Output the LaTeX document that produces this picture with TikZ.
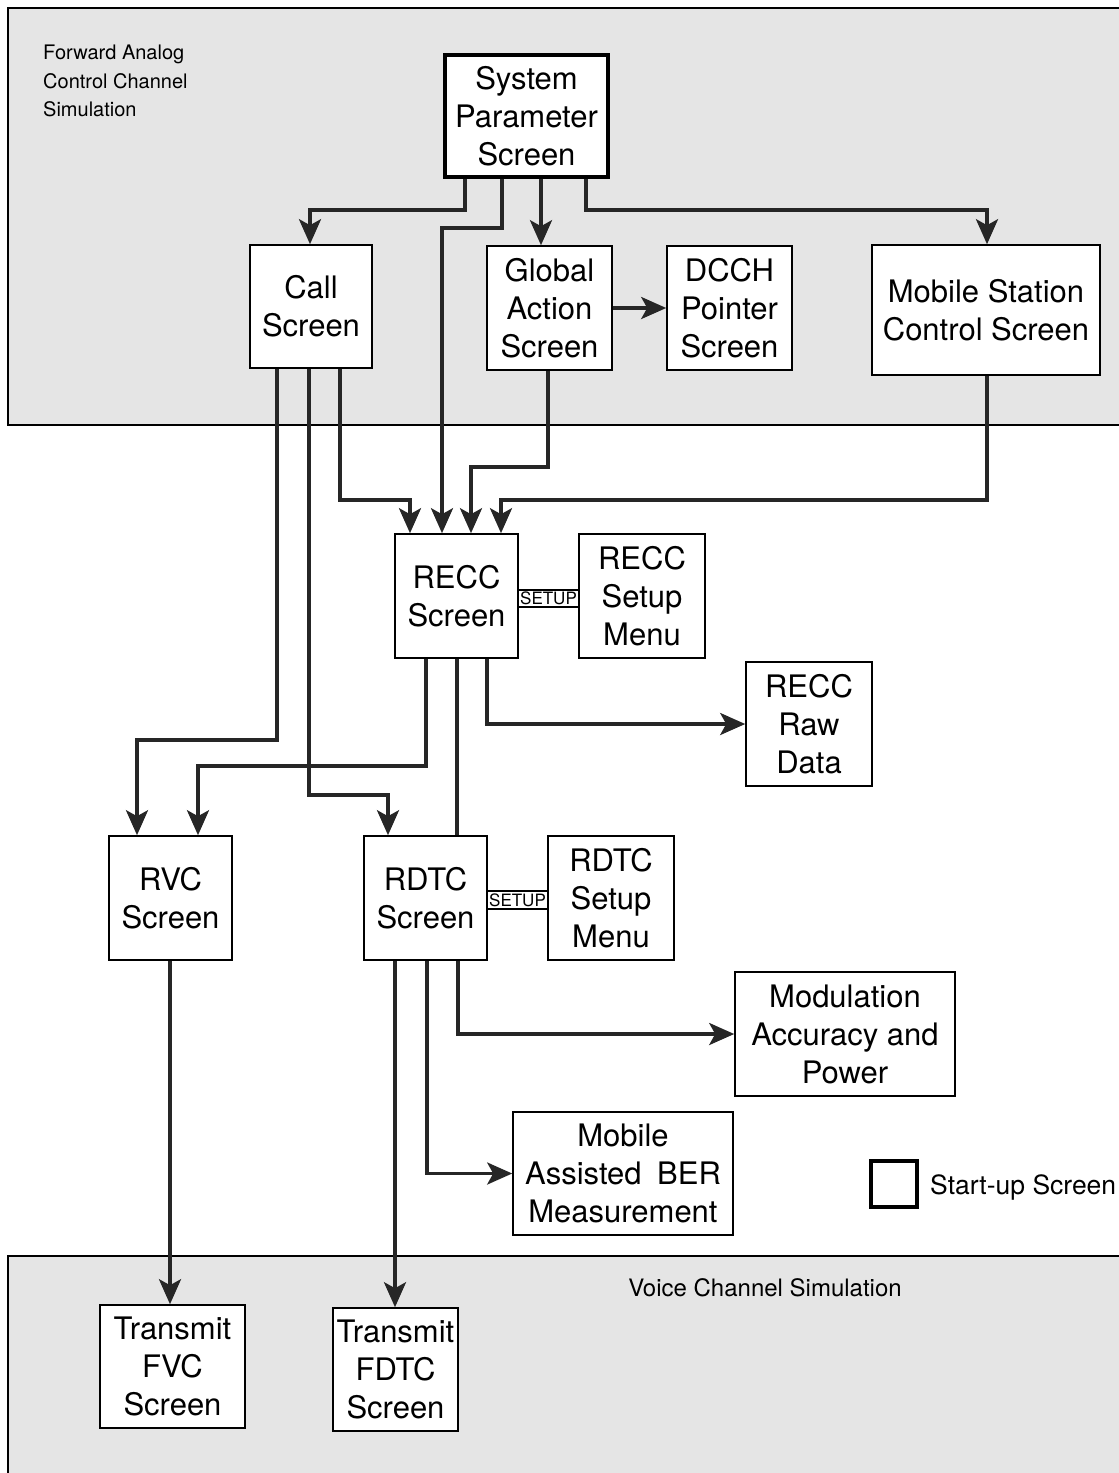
\documentclass[tikz,border=0pt]{standalone}
\usepackage{fontspec}
\setmainfont{TeX Gyre Heros}
\usetikzlibrary{arrows.meta}
\begin{document}
\begin{tikzpicture}[x=1pt,y=-1pt,
  band/.style={draw=black,line width=1.6pt,fill=gray!20},
  scr/.style={draw=black,line width=1.6pt,fill=white,align=center,inner sep=0pt,
    font=\fontsize{31}{38}\selectfont},
  conn/.style={draw=black!85,line width=3.4pt},
  arr/.style={conn,-{Stealth[length=25pt,width=22pt,inset=6pt]}},
  setupbox/.style={draw=black,line width=1.3pt,fill=white,inner sep=0pt,
    font=\fontsize{17}{18}\selectfont},
  lbl/.style={inner sep=0pt,font=\fontsize{20}{28.5}\selectfont}
]
\useasboundingbox (0,0) rectangle (1119,1473);
% bands
\path[band] (8,8) rectangle (1126,425);
\path[band] (8,1256) rectangle (1126,1482);
\node[lbl,anchor=north west,align=left] (fwdlbl) at (43,45) {Forward Analog\\Control Channel\\Simulation};
\node[lbl,font=\fontsize{24}{28}\selectfont] (voicelbl) at (765,1288) {Voice Channel Simulation};

% nodes
\node[scr,line width=4pt,minimum width=163pt,minimum height=122pt] (sps) at (526.5,116) {System\\Parameter\\Screen};
\node[scr,minimum width=122pt,minimum height=123pt] (call) at (311,306.5) {Call\\Screen};
\node[scr,minimum width=125pt,minimum height=124pt] (gas) at (549.5,308) {Global\\Action\\Screen};
\node[scr,minimum width=125pt,minimum height=124pt] (dcch) at (729.5,308) {DCCH\\Pointer\\Screen};
\node[scr,minimum width=228pt,minimum height=130pt] (msc) at (986,310) {Mobile Station\\Control Screen};
\node[scr,minimum width=123pt,minimum height=124pt] (recc) at (456.5,596) {RECC\\Screen};
\node[scr,minimum width=126pt,minimum height=124pt] (reccsetup) at (642,596) {RECC\\Setup\\Menu};
\node[scr,minimum width=126pt,minimum height=124pt] (raw) at (809,724) {RECC\\Raw\\Data};
\node[scr,minimum width=123pt,minimum height=124pt] (rvc) at (170.5,898) {RVC\\Screen};
\node[scr,minimum width=123pt,minimum height=124pt] (rdtc) at (425.5,898) {RDTC\\Screen};
\node[scr,minimum width=126pt,minimum height=124pt] (rdtcsetup) at (611,898) {RDTC\\Setup\\Menu};
\node[scr,minimum width=220pt,minimum height=124pt] (mod) at (845,1034) {Modulation\\Accuracy and\\Power};
\node[scr,minimum width=220pt,minimum height=123pt] (ber) at (623,1173.5) {Mobile\\Assisted\enspace BER\\Measurement};
\node[scr,minimum width=145pt,minimum height=123pt] (tfvc) at (172.5,1366.5) {Transmit\\FVC\\Screen};
\node[scr,minimum width=125pt,minimum height=123pt] (tfdtc) at (395.5,1369.5) {Transmit\\FDTC\\Screen};

% setup links
\node[setupbox,minimum width=61pt,minimum height=17pt] (setup1) at (548.5,598.5) {SETUP};
\node[setupbox,minimum width=61pt,minimum height=18pt] (setup2) at (517.5,900) {SETUP};

% legend
\node[draw=black,line width=4pt,fill=white,minimum width=46pt,minimum height=46pt,inner sep=0pt] (legbox) at (894,1184) {};
\node[inner sep=0pt,anchor=west,font=\fontsize{26.5}{30}\selectfont] (legtxt) at (930,1187) {Start-up Screen};

% connectors from System Parameter Screen
\draw[arr] (465,0 |- sps.south) |- (310,210) -- (310,0 |- call.north);
\draw[arr] (502,0 |- sps.south) |- (442,228) -- (442,0 |- recc.north);
\draw[arr] (541,0 |- sps.south) -- (541,0 |- gas.north);
\draw[arr] (586,0 |- sps.south) |- (987,210) -- (987,0 |- msc.north);
\draw[arr] (gas.east) -- (dcch.west);

% into RECC
\draw[arr] (340,0 |- call.south) |- (410,500) -- (410,0 |- recc.north);
\draw[arr] (548,0 |- gas.south) |- (471,467) -- (471,0 |- recc.north);
\draw[arr] (987,0 |- msc.south) |- (501,500) -- (501,0 |- recc.north);

% call screen down
\draw[arr] (277,0 |- call.south) |- (137,740) -- (137,0 |- rvc.north);
\draw[arr] (309,0 |- call.south) |- (388,795) -- (388,0 |- rdtc.north);

% RECC down
\draw[arr] (426,0 |- recc.south) |- (198,766) -- (198,0 |- rvc.north);
\draw[conn] (457,0 |- recc.south) -- (457,0 |- rdtc.north);
\draw[arr] (487,0 |- recc.south) |- (raw.west);

% RDTC down
\draw[arr] (395,0 |- rdtc.south) -- (395,0 |- tfdtc.north);
\draw[arr] (427,0 |- rdtc.south) |- (ber.west);
\draw[arr] (458,0 |- rdtc.south) |- (mod.west);

% RVC down
\draw[arr] (170,0 |- rvc.south) -- (170,0 |- tfvc.north);
\end{tikzpicture}
\end{document}
